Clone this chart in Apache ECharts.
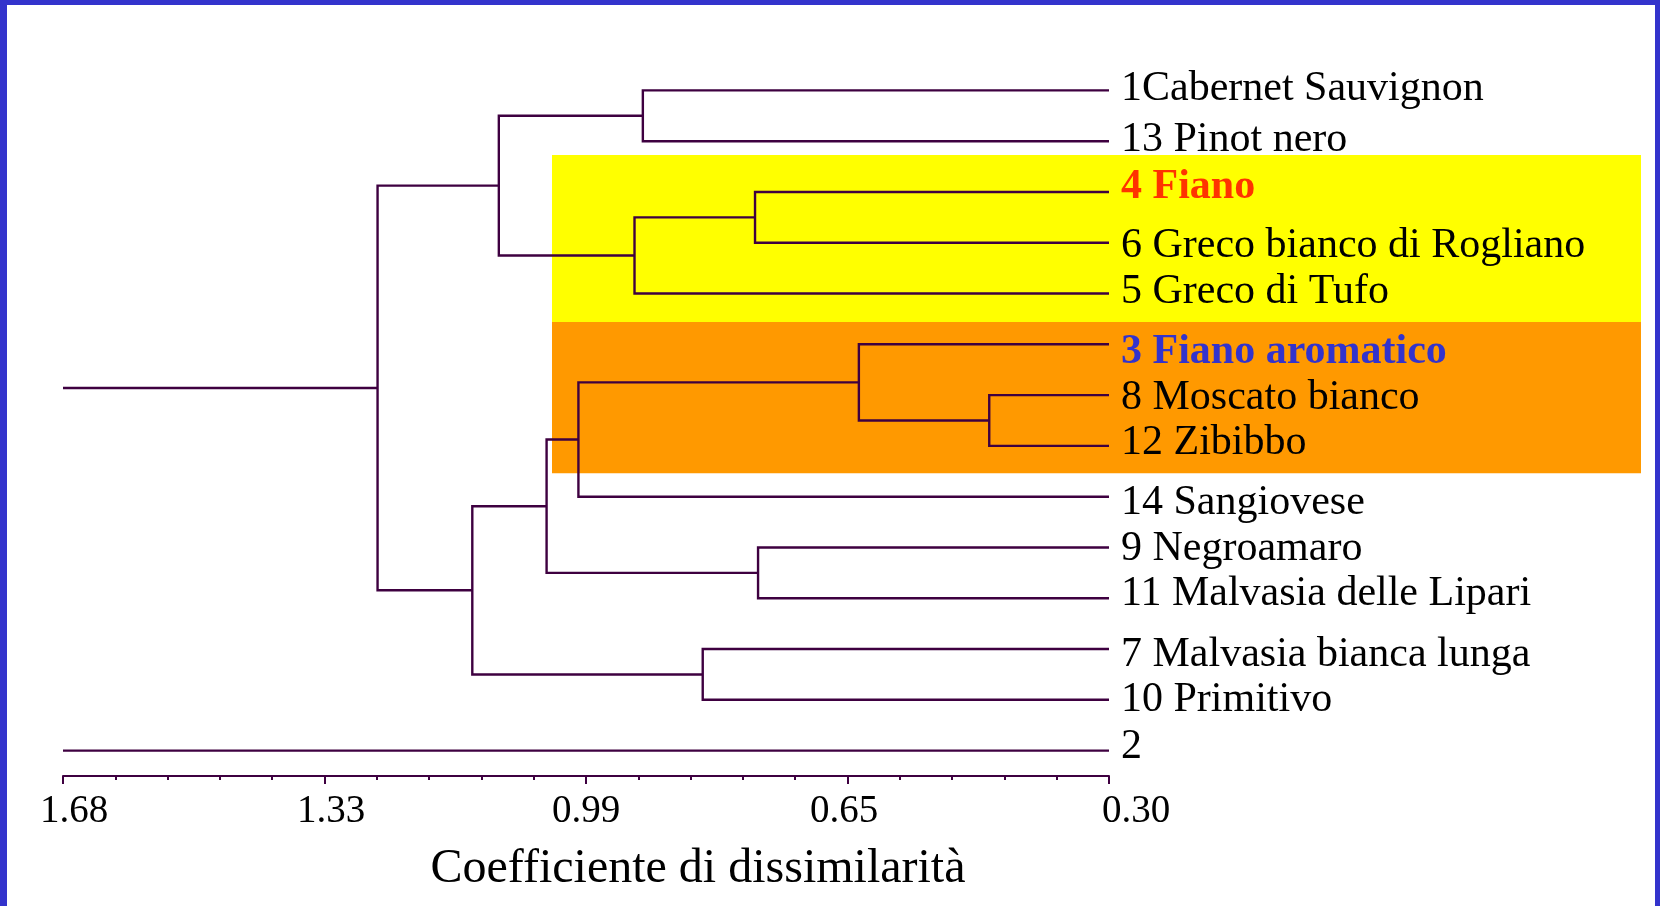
<!DOCTYPE html>
<html><head><meta charset="utf-8">
<script src="https://cdn.jsdelivr.net/npm/echarts@6/dist/echarts.min.js"></script>
<style>
html,body{margin:0;padding:0;background:#fff;}
#chart{position:absolute;left:0;top:0;width:1660px;height:906px;}
#frame{position:absolute;left:0;top:0;width:1660px;height:906px;box-sizing:border-box;border-top:5px solid #3333CC;border-left:7px solid #3333CC;border-right:5px solid #3333CC;pointer-events:none;}
</style></head><body>
<div id="chart"></div><div id="frame"></div>
<script>
// ---- data ----
const leafNames = ['1Cabernet Sauvignon','13 Pinot nero','4 Fiano','6 Greco bianco di Rogliano','5 Greco di Tufo',
  '3 Fiano aromatico','8 Moscato bianco','12 Zibibbo','14 Sangiovese','9 Negroamaro','11 Malvasia delle Lipari',
  '7 Malvasia bianca lunga','10 Primitivo','2'];
// merges: [childA, childB, dissimilarity]; children 0..12 are leaves, 13+ are earlier merges in order
const merges = [
  [0, 1, 0.915],
  [2, 3, 0.767],
  [14, 4, 0.926],
  [13, 15, 1.105],
  [6, 7, 0.458],
  [5, 17, 0.630],
  [18, 8, 1.000],
  [9, 10, 0.763],
  [19, 20, 1.042],
  [11, 12, 0.836],
  [21, 22, 1.140],
  [16, 23, 1.265]
];
const treeLeafCount = 13;
const outlierLeaf = 13;          // leaf "2", joined only at the axis maximum
const axisMin = 0.30, axisMax = 1.68;
const majorTicks = [1.68, 1.335, 0.99, 0.645, 0.30];
const tickLabels = ['1.68', '1.33', '0.99', '0.65', '0.30'];
const minorPerMajor = 5;
const highlightBands = [[1.27, 4.56], [4.56, 7.54]];   // in leaf-row units
const highlightColors = ['#FFFF00', '#FF9900'];
const emphasisLabels = {'4 Fiano': '#FF3300', '3 Fiano aromatico': '#3333CC'};
const axisTitle = 'Coefficiente di dissimilarità';

// ---- build ----
const FONT = '"Liberation Serif","Times New Roman",serif';
const LINE = '#3e0040';
const nodeY = [], nodeH = [];
for (let i = 0; i < treeLeafCount; i++) { nodeY[i] = i; nodeH[i] = axisMin; }
const segs = [];
merges.forEach(([a, b, h], k) => {
  const id = treeLeafCount + k;
  segs.push({coords: [[nodeH[a], nodeY[a]], [h, nodeY[a]], [h, nodeY[b]], [nodeH[b], nodeY[b]]]});
  nodeY[id] = (nodeY[a] + nodeY[b]) / 2; nodeH[id] = h;
});
const root = treeLeafCount + merges.length - 1;
segs.push({coords: [[nodeH[root], nodeY[root]], [axisMax, nodeY[root]]]});
segs.push({coords: [[axisMin, outlierLeaf], [axisMax, outlierLeaf]]});

const step = (majorTicks[0] - majorTicks[1]) / minorPerMajor;
const minorTicks = [];
for (let v = axisMin; v <= axisMax + 1e-6; v += step) minorTicks.push(+v.toFixed(4));

// per-label vertical nudge (px, + = down) to follow the reference typesetting
const labelNudge = {'1Cabernet Sauvignon': -1, '13 Pinot nero': -1, '4 Fiano': -5, '6 Greco bianco di Rogliano': 3,
  '5 Greco di Tufo': -2, '3 Fiano aromatico': 8, '8 Moscato bianco': 3, '12 Zibibbo': -3, '14 Sangiovese': 6,
  '9 Negroamaro': 2, '11 Malvasia delle Lipari': -4, '7 Malvasia bianca lunga': 6, '10 Primitivo': 0, '2': -4};
const leafRich = {};
leafNames.forEach((n, i) => {
  const off = labelNudge[n] || 0;
  const st = {fontSize: 42, fontFamily: FONT, color: '#000',
    padding: off < 0 ? [0, 0, -2 * off, 0] : [2 * off, 0, 0, 0]};
  if (emphasisLabels[n]) { st.color = emphasisLabels[n]; st.fontWeight = 'bold'; }
  leafRich['n' + i] = st;
});
const tickShift = [22, 13, 0, -7, 54];
const rich = {};
tickShift.forEach((s, i) => {
  rich['t' + i] = {fontSize: 39, fontFamily: FONT, color: '#000', padding: s >= 0 ? [0, 0, 0, s] : [0, -s, 0, 0]};
});

const chart = echarts.init(document.getElementById('chart'));
chart.setOption({
  animation: false,
  backgroundColor: '#fff',
  grid: [
    {left: 63, right: 551, top: 65, bottom: 130},
    {left: 552, right: 19, top: 65, bottom: 130}
  ],
  xAxis: [
    {type: 'value', gridIndex: 0, position: 'bottom', min: axisMin, max: axisMax, inverse: true,
     axisLine: {onZero: false, lineStyle: {color: LINE, width: 2}},
     axisTick: {customValues: majorTicks, length: 8, lineStyle: {color: LINE, width: 2}},
     axisLabel: {customValues: majorTicks, margin: 16, fontSize: 39, fontFamily: FONT, color: '#000',
       formatter: v => { const i = majorTicks.findIndex(t => Math.abs(t - v) < 1e-6); return '{t' + i + '|' + tickLabels[i] + '}'; },
       rich: rich},
     splitLine: {show: false},
     name: axisTitle, nameLocation: 'middle', nameGap: 69,
     nameTextStyle: {fontSize: 48, fontFamily: FONT, color: '#000', padding: [0, 0, 0, 224]}},
    {type: 'value', gridIndex: 0, position: 'bottom', offset: 0, min: axisMin, max: axisMax, inverse: true,
     axisLine: {show: false, onZero: false},
     axisTick: {customValues: minorTicks, length: 4, lineStyle: {color: LINE, width: 2}},
     axisLabel: {show: false}, splitLine: {show: false}},
    {type: 'value', gridIndex: 1, min: 0, max: 1, show: false}
  ],
  yAxis: [
    {type: 'value', gridIndex: 0, min: -0.5, max: 13.5, inverse: true, show: false},
    {type: 'category', gridIndex: 0, position: 'right', inverse: true, data: leafNames, z: 10,
     axisLine: {show: false}, axisTick: {show: false}, splitLine: {show: false},
     axisLabel: {interval: 0, margin: 12, fontSize: 42, fontFamily: FONT, color: '#000',
       formatter: (v, i) => '{n' + leafNames.indexOf(v) + '|' + v + '}', rich: leafRich}},
    {type: 'value', gridIndex: 1, min: -0.5, max: 13.5, inverse: true, show: false}
  ],
  series: [
    {type: 'custom', xAxisIndex: 2, yAxisIndex: 2, z: 1, silent: true, clip: false,
     dimensions: ['from', 'to', 'idx'], encode: {y: [0, 1]},
     data: highlightBands.map((b, i) => [b[0], b[1], i]),
     renderItem: (params, api) => {
       const p0 = api.coord([0, api.value(0)]);
       const p1 = api.coord([1, api.value(1)]);
       return {type: 'rect', shape: {x: p0[0], y: p0[1], width: p1[0] - p0[0], height: p1[1] - p0[1]},
               style: {fill: highlightColors[api.value(2)]}};
     }},
    {type: 'lines', coordinateSystem: 'cartesian2d', xAxisIndex: 0, yAxisIndex: 0, polyline: true, z: 5, silent: true,
     lineStyle: {color: LINE, width: 2.4, opacity: 1}, data: segs}
  ]
});
</script></body></html>
